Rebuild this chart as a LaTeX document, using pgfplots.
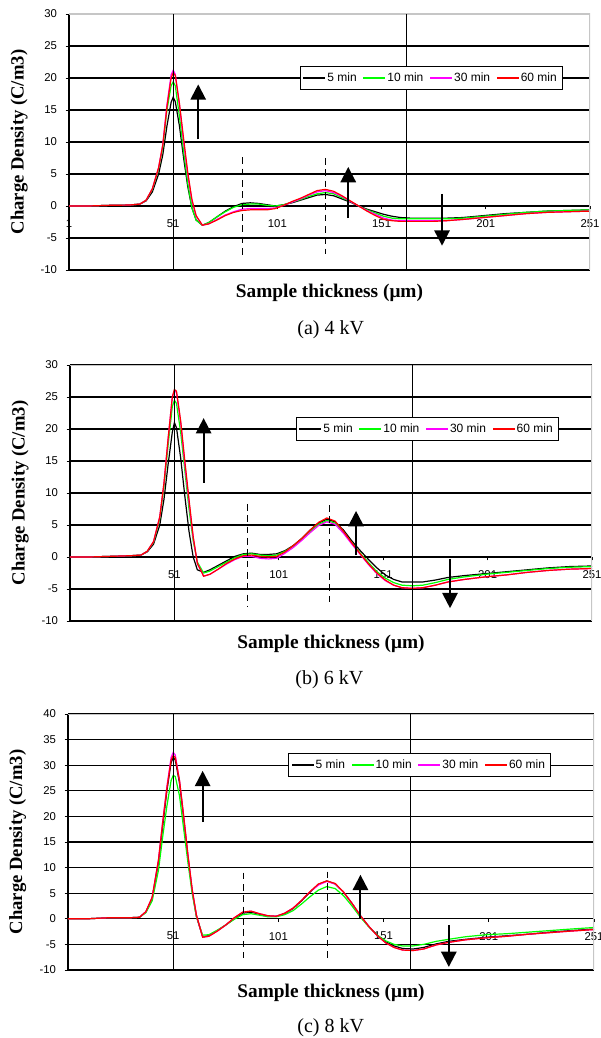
\documentclass[border=0pt]{standalone}
\usepackage{fontspec}
\setmainfont{Liberation Serif}
\newfontfamily\arialfont{Liberation Sans}
\usepackage{pgfplots}
\usepackage{pgfplotstable}
\pgfplotsset{compat=1.18}
\usetikzlibrary{arrows.meta}

\definecolor{cblack}{RGB}{0,0,0}
\definecolor{cgreen}{RGB}{0,255,0}
\definecolor{cmag}{RGB}{255,0,255}
\definecolor{cred}{RGB}{255,0,0}

\pgfplotstableread{
x    m5    m10   m30   m60
1    0     0     0     0
10   0     0     0     0
20   0.1   0.1   0.1   0.1
30   0.15  0.15  0.15  0.15
35   0.3   0.3   0.3   0.3
38   0.8   0.9   0.9   0.9
41   2.2   2.6   2.7   2.7
44   5.0   5.8   6.0   6.0
46   8.0   9.2   9.6   9.5
48   12.5  15.0  15.8  15.5
50   16.2  18.8  20.5  20.0
51   17.0  19.4  21.2  20.8
52   16.3  18.8  20.6  20.4
54   12.5  14.0  15.8  16.0
56   7.5   8.5   10.0  10.5
58   3.0   3.5   4.8   5.2
60   -0.3  -0.3  0.8   1.0
62   -2.2  -2.2  -1.6  -1.5
65   -3.0  -3.0  -3.0  -3.0
68   -2.6  -2.6  -2.8  -2.8
72   -1.7  -1.7  -2.1  -2.2
76   -0.8  -0.9  -1.4  -1.5
80   -0.1  -0.2  -0.9  -1.0
84   0.4   0.2   -0.5  -0.7
88   0.5   0.3   -0.4  -0.6
92   0.4   0.3   -0.4  -0.6
96   0.2   0.1   -0.4  -0.6
100  0.0   0.0   -0.3  -0.4
104  0.2   0.2   0.1   0.1
108  0.5   0.6   0.6   0.7
112  0.9   1.0   1.1   1.2
116  1.3   1.5   1.7   1.8
120  1.7   1.9   2.2   2.4
124  1.8   2.1   2.4   2.6
128  1.6   1.9   2.1   2.3
132  1.1   1.3   1.5   1.6
136  0.6   0.7   0.7   0.8
140  0.0   0.0   0.0   0.0
144  -0.5  -0.6  -0.7  -0.8
148  -0.9  -1.1  -1.3  -1.5
152  -1.3  -1.6  -1.9  -2.1
156  -1.6  -1.9  -2.2  -2.3
160  -1.8  -2.0  -2.3  -2.4
165  -1.9  -2.0  -2.3  -2.4
170  -1.9  -2.0  -2.3  -2.4
176  -1.9  -2.0  -2.3  -2.4
182  -1.9  -2.0  -2.3  -2.3
190  -1.8  -1.9  -2.1  -2.1
200  -1.5  -1.6  -1.8  -1.8
210  -1.2  -1.3  -1.5  -1.5
220  -1.0  -1.0  -1.2  -1.2
230  -0.8  -0.8  -1.0  -1.0
240  -0.7  -0.7  -0.9  -0.9
251  -0.6  -0.6  -0.8  -0.8
}\dataA

\pgfplotstableread{
x    m5    m10   m30   m60
1    0     0     0     0
10   0     0     0     0
20   0.1   0.1   0.1   0.1
30   0.2   0.2   0.2   0.2
35   0.3   0.3   0.3   0.3
38   0.8   0.9   0.9   0.9
41   2.0   2.3   2.4   2.4
44   5.0   6.0   6.3   6.3
46   9.0   11.0  11.5  11.5
48   14.5  17.5  18.5  18.5
50   19.5  23.5  25.0  25.0
51   21.0  24.5  26.0  26.2
52   20.2  24.0  25.7  25.9
54   15.5  19.5  21.0  21.3
56   9.5   13.5  14.5  15.0
58   4.0   7.5   8.5   9.0
60   0.0   2.5   3.0   3.2
62   -2.0  -0.8  -1.0  -1.0
65   -2.4  -2.5  -3.0  -3.0
68   -2.0  -2.2  -2.7  -2.7
72   -1.3  -1.5  -1.9  -1.9
76   -0.6  -0.8  -1.1  -1.0
80   0.1   -0.1  -0.4  -0.3
84   0.5   0.4   0.1   0.2
88   0.6   0.5   0.1   0.3
92   0.4   0.3   -0.2  0.1
96   0.4   0.2   -0.3  0.0
100  0.5   0.3   -0.2  0.1
104  1.0   0.9   0.6   0.8
108  1.8   1.7   1.5   1.8
112  2.9   2.8   2.6   2.9
116  4.2   4.0   3.8   4.2
120  5.3   5.1   4.9   5.4
124  5.9   5.7   5.5   6.1
128  5.5   5.3   5.1   5.6
132  4.2   3.9   3.7   4.0
136  2.5   2.2   2.0   2.2
140  1.0   0.6   0.4   0.5
144  -0.4  -0.9  -1.2  -1.1
148  -1.7  -2.3  -2.6  -2.5
152  -2.8  -3.3  -3.7  -3.6
156  -3.5  -4.0  -4.4  -4.4
160  -3.9  -4.4  -4.8  -4.8
165  -3.9  -4.5  -4.9  -4.9
170  -3.9  -4.4  -4.8  -4.8
176  -3.6  -4.0  -4.4  -4.4
182  -3.2  -3.5  -3.9  -3.9
190  -2.9  -3.1  -3.5  -3.5
200  -2.6  -2.7  -3.1  -3.1
210  -2.3  -2.4  -2.8  -2.8
220  -2.0  -2.1  -2.4  -2.4
230  -1.7  -1.8  -2.1  -2.1
240  -1.5  -1.6  -1.9  -1.9
251  -1.4  -1.5  -1.8  -1.8
}\dataB

\pgfplotstableread{
x    m5    m10   m30   m60
1    0     0     0     0
10   0     0     0     0
20   0.2   0.2   0.2   0.2
30   0.2   0.2   0.2   0.2
35   0.3   0.3   0.3   0.3
38   1.3   1.2   1.4   1.4
41   4.0   3.5   4.2   4.2
44   11.0  9.5   11.5  11.5
46   18.0  16.0  19.0  18.8
48   25.0  22.0  25.8  25.5
50   30.5  27.0  31.5  31.0
51   31.5  28.0  32.5  31.9
52   31.0  27.8  32.0  31.5
54   26.5  24.0  27.0  27.0
56   19.5  17.5  20.0  20.0
58   12.0  11.0  12.5  12.5
60   5.5   5.0   5.8   5.8
62   0.5   0.5   0.8   0.8
65   -3.5  -3.2  -3.6  -3.6
68   -3.3  -3.1  -3.4  -3.4
72   -2.3  -2.2  -2.4  -2.4
76   -1.2  -1.2  -1.2  -1.2
80   0.0   -0.1  0.2   0.2
84   1.1   0.8   1.3   1.3
88   1.3   1.0   1.5   1.5
92   0.9   0.7   1.0   1.0
96   0.5   0.4   0.6   0.6
100  0.5   0.4   0.5   0.5
104  1.0   0.8   1.1   1.1
108  2.0   1.6   2.1   2.1
112  3.5   2.9   3.6   3.6
116  5.2   4.3   5.3   5.3
120  6.7   5.6   6.6   6.8
124  7.4   6.3   7.3   7.4
128  6.8   5.9   6.8   6.9
132  5.2   4.5   5.2   5.2
136  3.0   2.5   3.0   3.0
140  0.6   0.3   0.6   0.6
144  -1.5  -1.6  -1.5  -1.5
148  -3.2  -3.2  -3.3  -3.3
152  -4.5  -4.3  -4.7  -4.7
156  -5.3  -5.0  -5.6  -5.6
160  -5.8  -5.3  -6.1  -6.1
165  -5.9  -5.3  -6.2  -6.2
170  -5.6  -5.0  -5.9  -5.9
176  -4.9  -4.4  -5.1  -5.1
182  -4.4  -4.0  -4.6  -4.6
190  -4.0  -3.5  -4.1  -4.1
200  -3.6  -3.1  -3.7  -3.7
210  -3.3  -2.9  -3.4  -3.4
220  -3.0  -2.6  -3.0  -3.0
230  -2.6  -2.3  -2.7  -2.7
240  -2.3  -2.0  -2.4  -2.4
251  -2.0  -1.7  -2.1  -2.1
}\dataC

\newcommand{\ticksfont}{\arialfont\fontsize{8.5}{10}\selectfont}
\newcommand{\legfont}{\arialfont\fontsize{9}{10.5}\selectfont}
\newcommand{\labfont}{\fontsize{14}{16}\selectfont\bfseries}
\newcommand{\xlabfont}{\fontsize{14.5}{16}\selectfont\bfseries}
\newcommand{\capfont}{\fontsize{15}{17}\selectfont}

\tikzset{
  vsolid/.style={black, line width=0.8pt},
  vdash/.style={black, line width=0.6pt, dash pattern=on 5pt off 3.5pt},
  bigarrow/.style={black, line width=1.5pt, -{Triangle[width=11.5pt,length=11.5pt]}},
}

\pgfplotsset{
  legend image code/.code={\fill[#1, draw=none] (0pt,-0.45pt) rectangle (16.5pt,0.45pt);},
  panel/.style={
    scale only axis, height=192pt,
    xmin=1, xmax=251,
    axis x line=middle, axis y line=left,
    axis line style={-, black, line width=0.8pt},
    xtick={1,51,101,151,201,251},
    xticklabels={1,51,101,151,201,251},
    x tick label style={font=\ticksfont, anchor=north, yshift=-4pt},
    y tick label style={font=\ticksfont, anchor=east, xshift=-3pt},
    /pgf/number format/assume math mode=true,
    tick style={black, line width=0.6pt},
    tick align=outside,
    major tick length=2.5pt,
    ymajorgrids,
    grid style={black, line width=0.8pt},
    every axis y label/.style={at={(axis description cs:-0.0956,0.5)}, rotate=90, anchor=center, font=\labfont},
    every axis x label/.style={at={(axis description cs:0.5,-0.09)}, anchor=center, font=\xlabfont},
    xlabel={Sample thickness (μm)},
    ylabel={Charge Density (C/m3)},
    legend columns=4,
    legend cell align=left,
    legend style={draw=black, fill=white, font=\legfont,
      inner sep=2.5pt, anchor=center,
      nodes={inner xsep=1.5pt, inner ysep=2pt},
      /tikz/every even column/.append style={column sep=3.5pt}},
  },
  curve/.style={line width=0.9pt, mark=none},
}

\begin{document}
\begin{tikzpicture}
\useasboundingbox (0,0) rectangle (450pt,-778.5pt);

% ---------- (a) 4 kV ----------
\begin{axis}[panel, at={(51.75pt,-10.5pt)}, anchor=north west, width=390.75pt,
  ymin=-10, ymax=30, ytick={-10,-5,0,5,10,15,20,25,30},
  yticklabels={-10,-5,0,5,10,15,20,25,30},
  hide obscured x ticks=false,
  legend style={at={(axis description cs:0.695,0.75)}}]
\addplot[curve, cblack] table[x=x, y=m5] {\dataA};
\addlegendentry{5 min}
\addplot[curve, cgreen] table[x=x, y=m10] {\dataA};
\addlegendentry{10 min}
\addplot[curve, cmag] table[x=x, y=m30] {\dataA};
\addlegendentry{30 min}
\addplot[curve, cred] table[x=x, y=m60] {\dataA};
\addlegendentry{60 min}
\draw[gray!45, line width=0.8pt] (rel axis cs:0,1) -- (rel axis cs:1,1) -- (rel axis cs:1,0);
\draw[vsolid] (axis cs:51,-10) -- (axis cs:51,30);
\draw[vsolid] (axis cs:163,-10) -- (axis cs:163,30);
\draw[vdash] (axis cs:84,7.6) -- (axis cs:84,-7.9);
\draw[vdash] (axis cs:124,7.5) -- (axis cs:124,-7.5);
\draw[bigarrow] (axis cs:63,10.4) -- (axis cs:63,19);
\draw[bigarrow] (axis cs:135,-1.9) -- (axis cs:135,6.1);
\draw[bigarrow] (axis cs:180,1.9) -- (axis cs:180,-6.2);
\end{axis}
\node[font=\capfont] at (248pt,-247.5pt) {(a) 4 kV};

% ---------- (b) 6 kV ----------
\begin{axis}[panel, at={(52.5pt,-273.75pt)}, anchor=north west, width=391.5pt,
  ymin=-10, ymax=30, ytick={-10,-5,0,5,10,15,20,25,30},
  yticklabels={-10,-5,0,5,10,15,20,25,30},
  legend style={at={(axis description cs:0.684,0.75)}}]
\addplot[curve, cblack] table[x=x, y=m5] {\dataB};
\addlegendentry{5 min}
\addplot[curve, cgreen] table[x=x, y=m10] {\dataB};
\addlegendentry{10 min}
\addplot[curve, cmag] table[x=x, y=m30] {\dataB};
\addlegendentry{30 min}
\addplot[curve, cred] table[x=x, y=m60] {\dataB};
\addlegendentry{60 min}
\draw[gray!45, line width=0.8pt] (rel axis cs:0,1) -- (rel axis cs:1,1) -- (rel axis cs:1,0);
\draw[vsolid] (axis cs:51,-10) -- (axis cs:51,30);
\draw[vsolid] (axis cs:165,-10) -- (axis cs:165,30);
\draw[vdash] (axis cs:86,8.3) -- (axis cs:86,-7.7);
\draw[vdash] (axis cs:125,8.1) -- (axis cs:125,-7.7);
\draw[bigarrow] (axis cs:65,11.6) -- (axis cs:65,21.7);
\draw[bigarrow] (axis cs:138,0.3) -- (axis cs:138,7.2);
\draw[bigarrow] (axis cs:183,-0.3) -- (axis cs:183,-8);
\end{axis}
\node[font=\capfont] at (247pt,-509.5pt) {(b) 6 kV};

% ---------- (c) 8 kV ----------
\begin{axis}[panel, at={(51pt,-535.5pt)}, anchor=north west, width=394.5pt,
  ymin=-10, ymax=40, ytick={-10,-5,0,5,10,15,20,25,30,35,40},
  yticklabels={-10,-5,0,5,10,15,20,25,30,35,40},
  legend style={at={(axis description cs:0.668,0.801)}}]
\addplot[curve, cblack] table[x=x, y=m5] {\dataC};
\addlegendentry{5 min}
\addplot[curve, cgreen] table[x=x, y=m10] {\dataC};
\addlegendentry{10 min}
\addplot[curve, cmag] table[x=x, y=m30] {\dataC};
\addlegendentry{30 min}
\addplot[curve, cred] table[x=x, y=m60] {\dataC};
\addlegendentry{60 min}
\draw[gray!45, line width=0.8pt] (rel axis cs:0,1) -- (rel axis cs:1,1) -- (rel axis cs:1,0);
\draw[vsolid] (axis cs:51,-10) -- (axis cs:51,40);
\draw[vsolid] (axis cs:164,-10) -- (axis cs:164,40);
\draw[vdash] (axis cs:84.5,9) -- (axis cs:84.5,-7.6);
\draw[vdash] (axis cs:124.5,9.2) -- (axis cs:124.5,-7.6);
\draw[bigarrow] (axis cs:65,18.9) -- (axis cs:65,28.9);
\draw[bigarrow] (axis cs:140,0) -- (axis cs:140,8.6);
\draw[bigarrow] (axis cs:182,-1.2) -- (axis cs:182,-9.4);
\end{axis}
\node[font=\capfont] at (248pt,-770.5pt) {(c) 8 kV};
\end{tikzpicture}
\end{document}
